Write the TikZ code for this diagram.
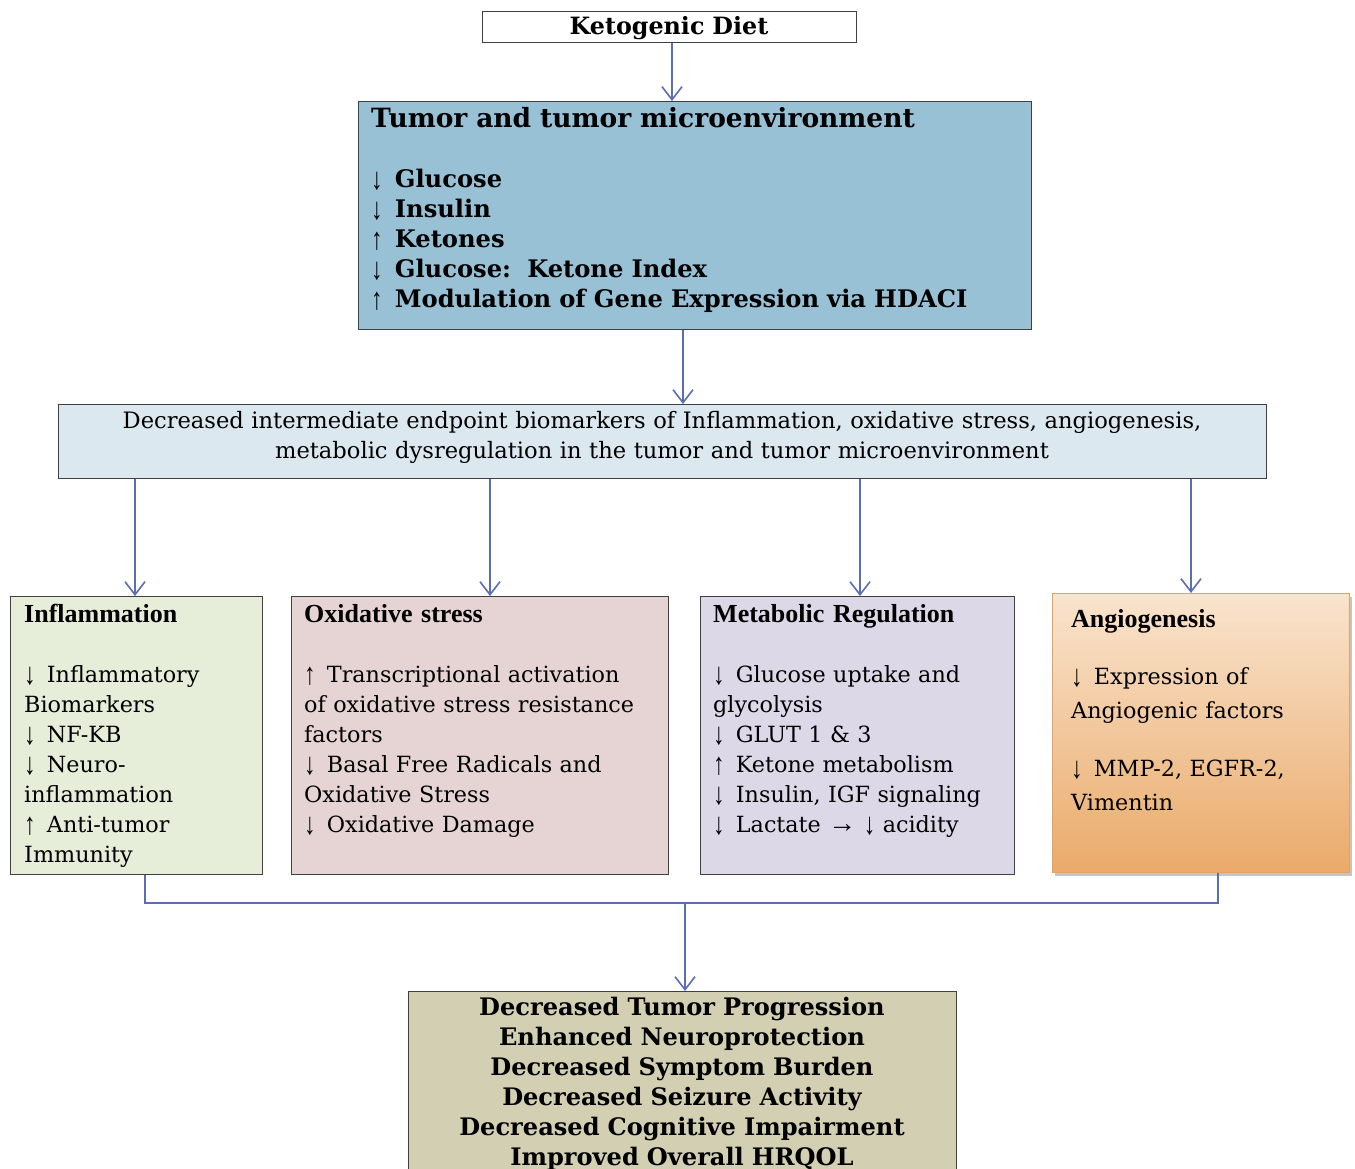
\documentclass[tikz,border=0pt]{standalone}
\usepackage{fontspec}
\setmainfont{DejaVu Serif}
\newfontfamily\tnr{Liberation Serif}
\usetikzlibrary{arrows.meta,shadows,calc}
\newcommand\arrglyph[1]{\raisebox{-2pt}{\scalebox{1.05}[1.4]{\tnr\fontsize{22}{30}\selectfont #1}}}
\newcommand\dwnA{\arrglyph{↓}\hspace{0.5em}}
\newcommand\upA{\arrglyph{↑}\hspace{0.5em}}
\newcommand\rgtA{{\tnr\fontsize{28}{30}\selectfont →}}
\newcommand\dwnI{\arrglyph{↓}}
\definecolor{bordergray}{RGB}{64,64,64}
\definecolor{arrowblue}{RGB}{90,109,181}
\definecolor{tumorfill}{RGB}{153,193,213}
\definecolor{biofill}{RGB}{220,232,240}
\definecolor{inflfill}{RGB}{230,237,216}
\definecolor{oxifill}{RGB}{230,212,212}
\definecolor{metafill}{RGB}{221,216,232}
\definecolor{angiotop}{RGB}{249,228,206}
\definecolor{angiobot}{RGB}{234,170,106}
\definecolor{angioborder}{RGB}{232,160,96}
\definecolor{bottomfill}{RGB}{210,207,178}
\begin{document}
\begin{tikzpicture}[x=1pt,y=-1pt,
  box/.style={draw=bordergray, line width=1.3pt, inner sep=0pt, anchor=north west},
  txl/.style={inner sep=0pt, anchor=base west, align=left, text width=#1},
  txc/.style={inner sep=0pt, anchor=base, align=center, text width=#1},
  head/.style={font=\tnr\bfseries\fontsize{26}{30}\selectfont},
  body/.style={font=\fontsize{22.3}{30}\selectfont},
  arr/.style={draw=arrowblue, line width=1.6pt, -{Straight Barb[length=13pt,width=20pt,line width=1.6pt]}},
  conn/.style={draw=arrowblue, line width=1.6pt}]
\useasboundingbox (0,0) rectangle (1355,1169);
\fill[white] (0,0) rectangle (1355,1169);

% Boxes
\node[box, fill=white, minimum width=374pt, minimum height=31pt] (keto) at (482,11) {};
\node[box, fill=tumorfill, minimum width=673pt, minimum height=228pt] (tumor) at (358,101) {};
\node[box, fill=biofill, minimum width=1208pt, minimum height=74pt] (bio) at (58,404) {};
\node[box, fill=inflfill, minimum width=252pt, minimum height=278pt] (infl) at (10,596) {};
\node[box, fill=oxifill, minimum width=377pt, minimum height=278pt] (oxi) at (291,596) {};
\node[box, fill=metafill, minimum width=314pt, minimum height=278pt] (meta) at (700,596) {};
\node[box, draw=angioborder, top color=angiotop, bottom color=angiobot,
  drop shadow={shadow xshift=2pt, shadow yshift=-3pt, fill=black!45},
  minimum width=297pt, minimum height=279pt] (angio) at (1052,593) {};
\node[box, fill=bottomfill, minimum width=548pt, minimum height=200pt] (outc) at (408,991) {};

% Texts
\node[txc=374pt, font=\bfseries\fontsize{23.8}{30}\selectfont] (ketot) at (669,35) {Ketogenic Diet};

\node[txl=660pt, font=\bfseries\fontsize{26.5}{30}\selectfont] (tumt) at (371,128) {Tumor and tumor microenvironment};
\node[txl=660pt, font=\bfseries\fontsize{24.2}{30}\selectfont] (tumb) at (371,188) {\dwnA Glucose\\\dwnA Insulin\\\upA Ketones\\\dwnA Glucose:\ \ Ketone Index\\\upA Modulation of Gene Expression via HDACI};

\node[txc=1200pt, font=\fontsize{22.6}{30}\selectfont] (biot) at (662,428) {Decreased intermediate endpoint biomarkers of Inflammation, oxidative stress, angiogenesis,\\metabolic dysregulation in the tumor and tumor microenvironment};

\node[txl=240pt, head] (inflh) at (24,622) {Inflammation};
\node[txl=240pt, body] (inflb) at (24,682) {\dwnA Inflammatory\\Biomarkers\\\dwnA NF-KB\\\dwnA Neuro-\\inflammation\\\upA Anti-tumor\\Immunity};

\node[txl=360pt, head] (oxih) at (304,622) {Oxidative stress};
\node[txl=360pt, body] (oxib) at (304,682) {\upA Transcriptional activation\\of oxidative stress resistance\\factors\\\dwnA Basal Free Radicals and\\Oxidative Stress\\\dwnA Oxidative Damage};

\node[txl=300pt, head] (metah) at (713,622) {Metabolic Regulation};
\node[txl=300pt, body] (metab) at (713,682) {\dwnA Glucose uptake and\\glycolysis\\\dwnA GLUT 1 \& 3\\\upA Ketone metabolism\\\dwnA Insulin, IGF signaling\\\dwnA Lactate \rgtA\ \dwnI\ acidity};

\node[txl=280pt, head] (angioh) at (1071,627) {Angiogenesis};
\node[txl=280pt, font=\fontsize{22.3}{34}\selectfont] (angiob) at (1071,684) {\dwnA Expression of\\Angiogenic factors\\[24pt]\dwnA MMP-2, EGFR-2,\\Vimentin};

\node[txc=540pt, font=\bfseries\fontsize{24.1}{30}\selectfont] (outt) at (682,1015) {Decreased Tumor Progression\\Enhanced Neuroprotection\\Decreased Symptom Burden\\Decreased Seizure Activity\\Decreased Cognitive Impairment\\Improved Overall HRQOL};

% Connectors
\draw[arr] (672,0 |- keto.south) -- (672,0 |- tumor.north);
\draw[arr] (683,0 |- tumor.south) -- (683,0 |- bio.north);
\draw[arr] (135,0 |- bio.south) -- (135,0 |- infl.north);
\draw[arr] (490,0 |- bio.south) -- (490,0 |- oxi.north);
\draw[arr] (860,0 |- bio.south) -- (860,0 |- meta.north);
\draw[arr] (1191,0 |- bio.south) -- (1191,0 |- angio.north);
\coordinate (jn) at (685,903);
\draw[conn] (145,0 |- infl.south) |- (jn);
\draw[conn] (1218,0 |- angio.south) |- (jn);
\draw[arr] (jn) -- (685,0 |- outc.north);
\end{tikzpicture}
\end{document}
